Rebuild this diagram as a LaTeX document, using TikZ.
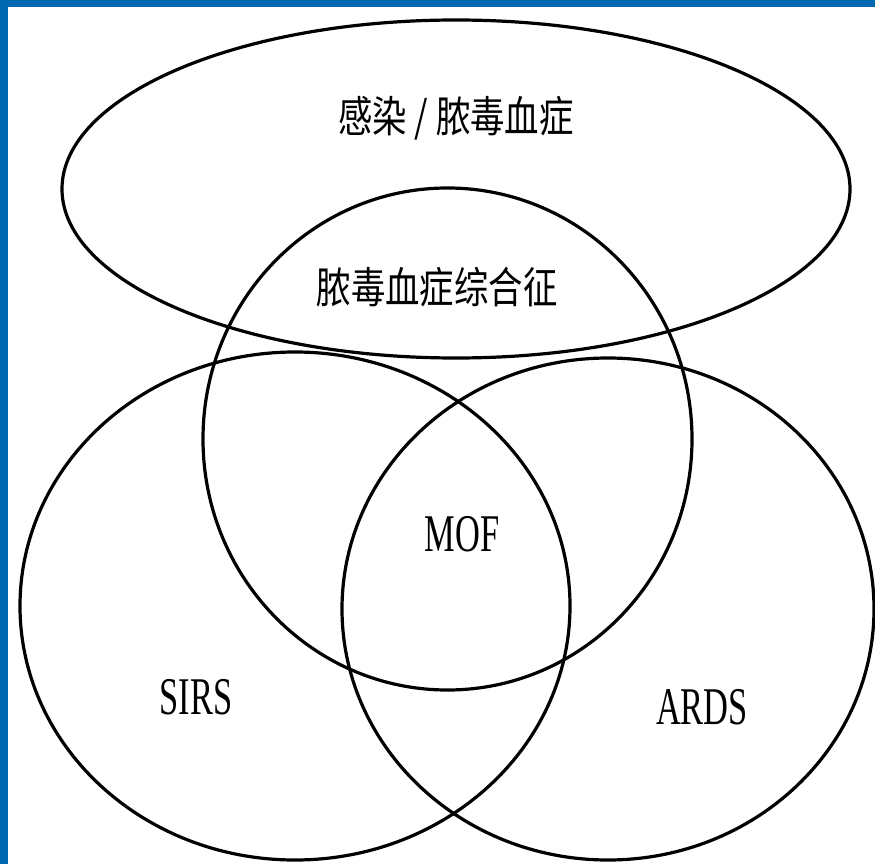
\documentclass[tikz,border=0pt]{standalone}
\usepackage{fontspec}
\setmainfont{Liberation Serif}
\newfontfamily\cjk{Noto Sans CJK SC}
\usepackage{xcolor}
\usetikzlibrary{positioning}
\definecolor{slideblue}{HTML}{0067B1}

\begin{document}
\begin{tikzpicture}[x=1pt, y=-1pt,
      ring/.style={draw=black, line width=3.2pt},
      lat/.style={font=\fontsize{53}{53}\selectfont, xscale=0.65, inner sep=0pt},
      han/.style={font=\cjk\fontsize{43}{43}\selectfont, xscale=0.8, inner sep=0pt}]
    \useasboundingbox (0,0) rectangle (875,864);
    % slide frame
    \fill[white] (0,0) rectangle (875,864);
    \fill[slideblue] (0,0) rectangle (875,7.5);
    \fill[slideblue] (0,0) rectangle (7.5,864);
    % sets
    \draw[ring] (456,189) ellipse [x radius=394, y radius=169];
    \draw[ring] (447.5,439) ellipse [x radius=244.5, y radius=251];
    \draw[ring] (295,606) ellipse [x radius=275, y radius=254];
    \draw[ring] (608,609) ellipse [x radius=266, y radius=251];
    % labels
    \node[han] (sepsis) at (456,118) {感染 / 脓毒血症};
    \node[han] (syndrome) at (437,287) {脓毒血症综合征};
    \node[lat] (mof) at (462,534) {MOF};
    \node[lat] (sirs) at (196,697) {SIRS};
    \node[lat] (ards) at (702,707) {ARDS};
  \end{tikzpicture}
\end{document}
